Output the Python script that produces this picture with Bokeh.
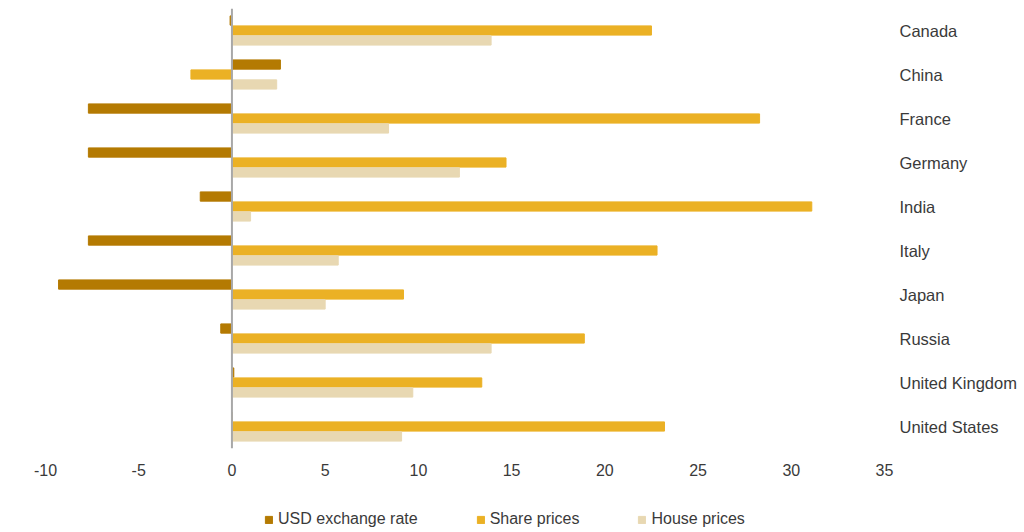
from bokeh.plotting import figure
from bokeh.models import FactorRange, Range1d, Span, Legend, LegendItem, FixedTicker
from bokeh.layouts import column
from bokeh.transform import dodge
from bokeh.embed import file_html
from bokeh.resources import INLINE

# Data (% change)
countries = ["Canada", "China", "France", "Germany", "India", "Italy",
             "Japan", "Russia", "United Kingdom", "United States"]
usd_exchange = [-0.1, 2.6, -7.7, -7.7, -1.7, -7.7, -9.3, -0.6, 0.1, 0.0]
share_prices = [22.5, -2.2, 28.3, 14.7, 31.1, 22.8, 9.2, 18.9, 13.4, 23.2]
house_prices = [13.9, 2.4, 8.4, 12.2, 1.0, 5.7, 5.0, 13.9, 9.7, 9.1]
x_ticks = [-10, -5, 0, 5, 10, 15, 20, 25, 30, 35]
series_names = ["USD exchange rate", "Share prices", "House prices"]
series_colors = ["#B47A02", "#EBB125", "#E8D8B2"]

font = "Liberation Sans"
text_color = "#3a3a3a"

p = figure(
    y_range=FactorRange(factors=countries[::-1]),
    x_range=Range1d(-10, 35),
    y_axis_location="right",
    frame_width=839, frame_height=440,
    min_border_left=45, min_border_top=8, min_border_right=0, min_border_bottom=40,
    toolbar_location=None, output_backend="svg",
)

data = dict(country=countries, usd=usd_exchange, share=share_prices, house=house_prices)

offsets = [0.227, 0.0, -0.227]
for col, off, c in zip(["usd", "share", "house"], offsets, series_colors):
    p.hbar(y=dodge("country", off, range=p.y_range), right=col, left=0,
           height=0.21, source=data, color=c)

p.add_layout(Span(location=0, dimension="height", line_color="#a8a8a8", line_width=2))

p.xaxis.ticker = FixedTicker(ticks=x_ticks)
p.xaxis.major_label_overrides = {t: str(t) for t in x_ticks}
p.xaxis.axis_line_color = None
p.xaxis.major_tick_line_color = None
p.xaxis.minor_tick_line_color = None
p.xaxis.major_label_standoff = 9
p.xaxis.major_label_text_font = font
p.xaxis.major_label_text_font_size = "16px"
p.xaxis.major_label_text_color = text_color

p.yaxis.axis_line_color = None
p.yaxis.major_tick_line_color = None
p.yaxis.minor_tick_line_color = None
p.yaxis.major_label_standoff = 9
p.yaxis.major_label_text_font = font
p.yaxis.major_label_text_font_size = "16.5px"
p.yaxis.major_label_text_color = text_color

p.xgrid.grid_line_color = None
p.ygrid.grid_line_color = None
p.outline_line_color = None

# separate strip under the chart for the legend
leg_fig = figure(
    x_range=Range1d(0, 1), y_range=Range1d(0, 1),
    frame_width=839, frame_height=42,
    min_border_left=45, min_border_top=0, min_border_right=0, min_border_bottom=0,
    x_axis_location=None, y_axis_location=None,
    toolbar_location=None, output_backend="svg",
)
leg_fig.xgrid.grid_line_color = None
leg_fig.ygrid.grid_line_color = None
leg_fig.outline_line_color = None

items = []
for name, c in zip(series_names, series_colors):
    # swatch-only renderer, kept outside the visible range
    r = leg_fig.hbar(y=[5], right=[6], left=[5.5], height=0.5, color=c)
    items.append(LegendItem(label=name, renderers=[r]))

legend = Legend(items=items, orientation="horizontal", location=(219, 2))
legend.glyph_width = 9
legend.glyph_height = 9
legend.label_standoff = 5
legend.spacing = 58
legend.padding = 2
legend.margin = 0
legend.border_line_color = None
legend.background_fill_alpha = 0
legend.label_text_font = font
legend.label_text_font_size = "16px"
legend.label_text_color = text_color
leg_fig.add_layout(legend)

layout = column(p, leg_fig)

open("out.html", "w").write(file_html(layout, INLINE))
